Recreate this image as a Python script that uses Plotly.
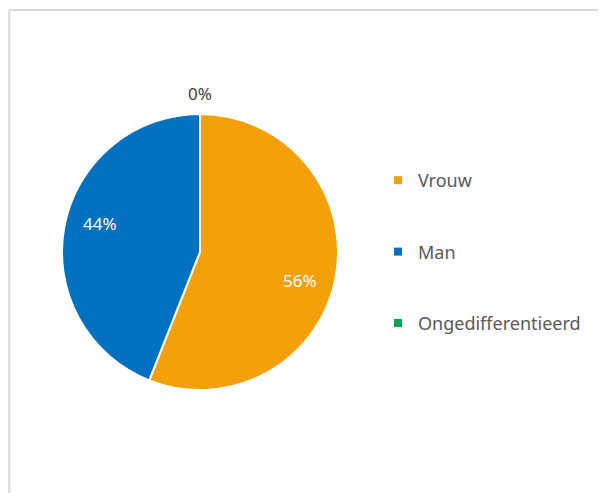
import math
import plotly.graph_objects as go

labels = ["Vrouw", "Man", "Ongedifferentieerd"]
values = [56, 44, 0]
colors = ["#F5A00A", "#0070C0", "#00A651"]

# figure placed after the page's 8px body margin
W, H = 598, 485
FONT = "Noto Sans"

# pie geometry (figure pixels)
CX, CY, R = 192, 244, 138

fig = go.Figure()
fig.add_trace(go.Pie(
    labels=labels, values=values, sort=False, direction="clockwise", rotation=0,
    marker=dict(colors=colors, line=dict(color="white", width=2)),
    textinfo="none",
    domain=dict(x=[(CX - R) / W, (CX + R) / W], y=[1 - (CY + R) / H, 1 - (CY - R) / H]),
    showlegend=False, hoverinfo="label+percent",
))

for i, (lab, col) in enumerate(zip(labels, colors)):
    fig.add_trace(go.Scatter(
        x=[None], y=[None], mode="markers", name=lab,
        marker=dict(symbol="square", size=8, color=col),
        legendgroup=f"g{i}", showlegend=True,
    ))

# data labels, placed from the slice values (Excel-like positions)
total = sum(values)
annotations = []
cum = 0.0
for v in values:
    frac = v / total
    mid = (cum + frac / 2) * 2 * math.pi
    if v > 0:
        mid += math.radians(5)
        rr = 0.75 * R
        color = "white"
    else:
        rr = 1.15 * R
        color = "#404040"
    px = CX + rr * math.sin(mid)
    py = CY - rr * math.cos(mid)
    annotations.append(dict(
        x=px / W, y=1 - py / H, xref="paper", yref="paper",
        text=f"{round(frac * 100)}%", showarrow=False,
        font=dict(family=FONT, size=17, color=color),
        xanchor="center", yanchor="middle",
    ))
    cum += frac

frame = dict(color="#d9d9d9", width=2)
fig.update_layout(
    width=W, height=H,
    margin=dict(l=0, r=0, t=0, b=0),
    paper_bgcolor="white", plot_bgcolor="white",
    xaxis=dict(visible=False), yaxis=dict(visible=False),
    font=dict(family=FONT, size=18, color="#595959"),
    legend=dict(
        x=370 / W, y=1 - 154 / H, xanchor="left", yanchor="top",
        font=dict(size=18, color="#595959", family=FONT),
        traceorder="grouped", tracegroupgap=45, bgcolor="rgba(0,0,0,0)",
    ),
    annotations=annotations,
    shapes=[
        dict(type="line", xref="paper", yref="paper", x0=0.002, x1=0.002,
             y0=0, y1=1 - 2 / H, line=frame, layer="below"),
        dict(type="line", xref="paper", yref="paper", x0=0.002, x1=1,
             y0=1 - 2 / H, y1=1 - 2 / H, line=frame, layer="below"),
    ],
)

fig.write_html("out.html")
